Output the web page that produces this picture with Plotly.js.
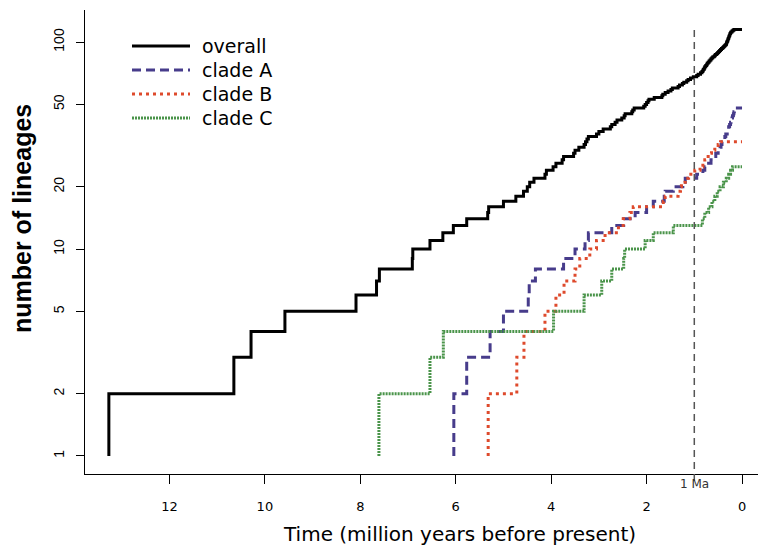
<!DOCTYPE html>
<html>
<head>
<meta charset="utf-8">
<script src="https://cdn.plot.ly/plotly-3.0.1.min.js"></script>
<style>
  html, body { margin: 0; padding: 0; background: #ffffff; overflow: hidden; }
  #chart { width: 758px; height: 545px; }
</style>
</head>
<body>
<div id="chart"></div>
<script>
// ---- data (million years before present, number of lineages) ----
const overallTime = [13.27,13.27,10.65,10.29,9.58,8.09,7.66,7.60,6.91,6.90,6.54,6.27,6.05,5.77,5.33,5.31,5.00,4.74,4.58,4.50,4.45,4.36,4.13,4.10,3.96,3.90,3.77,3.74,3.53,3.50,3.42,3.31,3.28,3.25,3.22,3.05,3.00,2.91,2.76,2.73,2.66,2.62,2.52,2.47,2.45,2.31,2.29,2.26,2.06,2.03,2.00,1.97,1.95,1.84,1.68,1.66,1.61,1.55,1.49,1.46,1.34,1.31,1.25,1.22,1.16,1.13,1.08,1.02,0.95,0.92,0.87,0.84,0.82,0.81,0.79,0.78,0.76,0.74,0.73,0.71,0.69,0.67,0.65,0.63,0.61,0.58,0.56,0.53,0.51,0.49,0.47,0.45,0.43,0.41,0.39,0.37,0.35,0.33,0.325,0.32,0.31,0.30,0.295,0.29,0.28,0.275,0.27,0.26,0.255,0.25,0.24,0.23,0.21,0.19,0.17,0];
const overallCount = [1,2,3,4,5,6,7,8,9,10,11,12,13,14,15,16,17,18,19,20,21,22,23,24,25,26,27,28,29,30,31,32,33,34,35,36,37,38,39,40,41,42,43,44,45,46,47,48,49,50,51,52,53,54,55,56,57,58,59,60,61,62,63,64,65,66,67,68,69,70,71,72,73,74,75,76,77,78,79,80,81,82,83,84,85,86,87,88,89,90,91,92,93,94,95,96,97,98,99,100,101,102,103,104,105,106,107,108,109,110,111,112,113,114,115,115];

const cladeATime = [6.04,6.04,5.77,5.28,5.00,4.48,4.46,4.33,3.74,3.50,3.29,3.22,2.73,2.48,2.24,2.00,1.86,1.63,1.61,1.44,1.24,1.19,0.95,0.82,0.78,0.70,0.65,0.61,0.55,0.50,0.46,0.44,0.42,0.39,0.36,0.34,0.31,0.29,0.28,0.26,0.24,0.23,0.21,0.20,0.18,0.17,0.16,0.15,0];
const cladeACount = [1,2,3,4,5,6,7,8,9,10,11,12,13,14,15,16,17,18,19,20,21,22,23,24,25,26,27,28,29,30,31,32,33,34,35,36,37,38,39,40,41,42,43,44,45,46,47,48,48];

const cladeBTime = [5.32,5.32,4.72,4.57,4.13,3.90,3.73,3.50,3.40,3.19,3.05,2.87,2.59,2.49,2.35,2.28,1.65,1.61,1.34,1.29,1.27,1.19,1.12,0.99,0.88,0.82,0.78,0.71,0.67,0.64,0.57,0.50,0.45,0];
const cladeBCount = [1,2,3,4,5,6,7,8,9,10,11,12,13,14,15,16,17,18,19,20,21,22,23,24,25,26,27,28,29,30,31,32,33,33];

const cladeCTime = [7.61,7.61,6.54,6.26,3.95,3.31,2.94,2.73,2.48,2.46,2.03,1.86,1.44,0.83,0.78,0.70,0.63,0.57,0.52,0.46,0.39,0.33,0.28,0.24,0.20,0];
const cladeCCount = [1,2,3,4,5,6,7,8,9,10,11,12,13,14,15,16,17,18,19,20,21,22,23,24,25,25];

const seriesNames = ["overall", "clade A", "clade B", "clade C"];
const xTickVals = [0, 2, 4, 6, 8, 10, 12];
const xTickText = ["0", "2", "4", "6", "8", "10", "12"];
const yTickVals = [1, 2, 5, 10, 20, 50, 100];
const yTickText = ["1", "2", "5", "10", "20", "50", "100"];
const markerTime = 1;   // 1 Ma reference line
const markerLabel = "1 Ma";

// ---- styles ----
const styles = [
  {color: "#000000", dash: "solid", width: 3},
  {color: "#473C8B", dash: "9px,5px", width: 3},
  {color: "#DE4A2C", dash: "3px,4px", width: 3},
  {color: "#4A944A", dash: "2px,1px", width: 3}
];

const W = 758, H = 545;
const M = {l: 85, r: 0, t: 10, b: 71};
const PW = W - M.l - M.r, PH = H - M.t - M.b;
const px2x = px => (px - M.l) / PW;
const py2y = py => (H - M.b - py) / PH;

const xs = [overallTime, cladeATime, cladeBTime, cladeCTime];
const ys = [overallCount, cladeACount, cladeBCount, cladeCCount];

const traces = xs.map((x, i) => ({
  type: "scatter", mode: "lines", x: x, y: ys[i], name: seriesNames[i],
  line: {shape: "hv", color: styles[i].color, dash: styles[i].dash, width: styles[i].width},
  showlegend: false, hoverinfo: "skip"
}));

const shapes = [{
  type: "line", xref: "x", yref: "paper",
  x0: markerTime, x1: markerTime, y0: py2y(481), y1: py2y(30),
  line: {color: "#555555", width: 1.5, dash: "7px,5px"}
}];
const annotations = [];

// legend (drawn manually to match the long line samples)
const legY = [46, 70, 94, 118];
seriesNames.forEach((n, i) => {
  shapes.push({
    type: "line", xref: "paper", yref: "paper",
    x0: px2x(132), x1: px2x(190), y0: py2y(legY[i]), y1: py2y(legY[i]),
    line: {color: styles[i].color, dash: styles[i].dash, width: styles[i].width}
  });
  annotations.push({
    xref: "paper", yref: "paper", x: px2x(200), y: py2y(legY[i]),
    xanchor: "left", yanchor: "middle", showarrow: false, text: n,
    font: {family: "DejaVu Sans", size: 19, color: "#000"}
  });
});

annotations.push({
  xref: "x", yref: "paper", x: markerTime, y: py2y(484),
  xanchor: "center", yanchor: "middle", showarrow: false, text: markerLabel,
  font: {family: "DejaVu Sans", size: 12, color: "#333"}
});
annotations.push({
  xref: "paper", yref: "paper", x: px2x(459), y: py2y(534),
  xanchor: "center", yanchor: "middle", showarrow: false,
  text: "Time (million years before present)",
  font: {family: "DejaVu Sans", size: 20, color: "#000"}
});
annotations.push({
  xref: "paper", yref: "paper", x: px2x(22), y: py2y(219),
  xanchor: "center", yanchor: "middle", showarrow: false, textangle: -90,
  text: "<b>number of lineages</b>",
  font: {family: "Liberation Sans", size: 25, color: "#000"}
});

const layout = {
  width: W, height: H, margin: M,
  paper_bgcolor: "#ffffff", plot_bgcolor: "#ffffff",
  showlegend: false,
  xaxis: {
    range: [13.77, -0.335], tickmode: "array", tickvals: xTickVals, ticktext: xTickText,
    showgrid: false, zeroline: false, showline: true, linecolor: "#000", linewidth: 1,
    ticks: "outside", ticklen: 9, tickcolor: "#000", tickwidth: 1, ticklabelstandoff: 11,
    tickfont: {family: "DejaVu Sans", size: 13, color: "#000"}
  },
  yaxis: {
    type: "log", range: [-0.087, 2.155], tickmode: "array", tickvals: yTickVals, ticktext: yTickText,
    showgrid: false, zeroline: false, showline: true, linecolor: "#000", linewidth: 1,
    ticks: "outside", ticklen: 8, tickcolor: "#000", tickwidth: 1, tickangle: -90, ticklabelstandoff: 6,
    tickfont: {family: "Liberation Sans", size: 14, color: "#000"}
  },
  shapes: shapes,
  annotations: annotations
};

Plotly.newPlot("chart", traces, layout, {displayModeBar: false, staticPlot: true});
</script>
</body>
</html>
